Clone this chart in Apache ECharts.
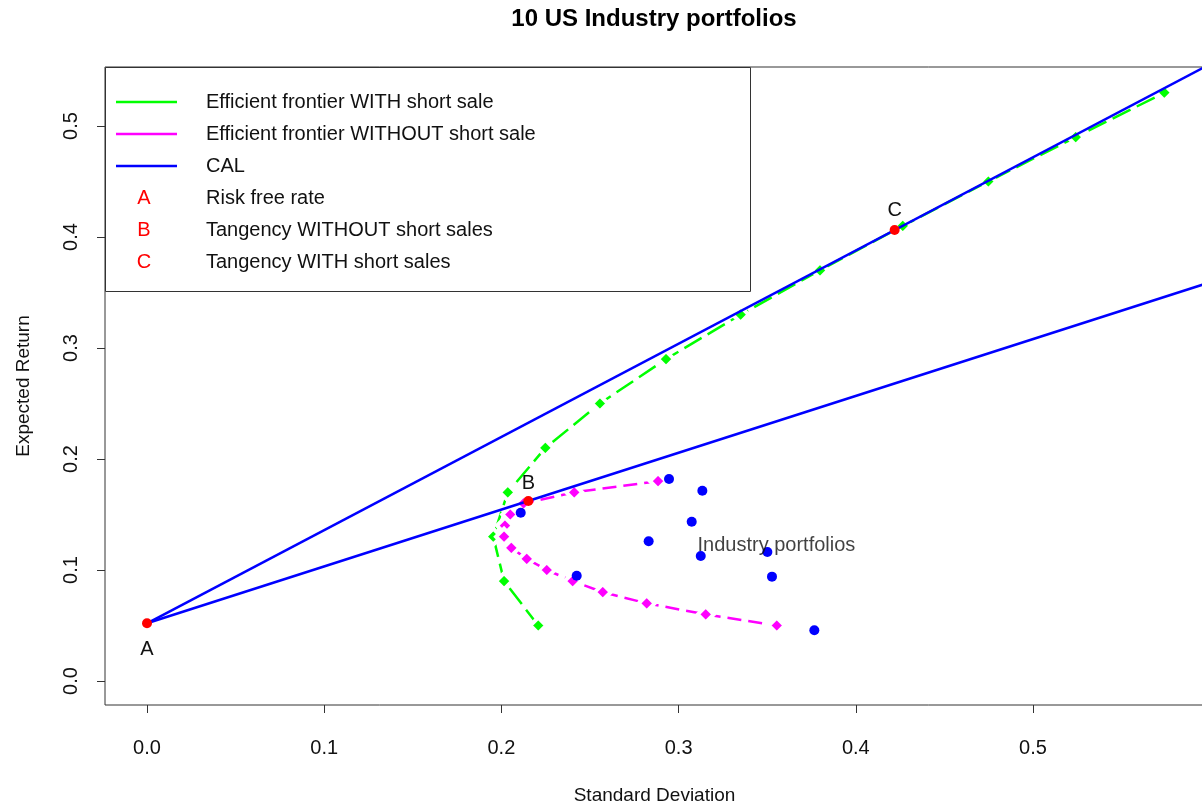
<!DOCTYPE html>
<html>
<head>
<meta charset="utf-8">
<title>10 US Industry portfolios</title>
<script src="https://cdn.jsdelivr.net/npm/echarts@6/dist/echarts.min.js"></script>
<style>
  html, body { margin: 0; padding: 0; background: #ffffff; }
  #chart { width: 1202px; height: 805px; }
</style>
</head>
<body>
<div id="chart"></div>
<script>
// ---- data ----
const riskFree = 0.052;

// Efficient frontier allowing short sales (target return -> std. deviation)
const frontierShortReturn = [0.05, 0.09, 0.13, 0.17, 0.21, 0.25, 0.29, 0.33, 0.37, 0.41, 0.45, 0.49, 0.53];
const frontierShortSd     = [0.2208, 0.2015, 0.1954, 0.2036, 0.2248, 0.2556, 0.2929, 0.3350, 0.3798, 0.4265, 0.4748, 0.5241, 0.5741];

// Efficient frontier without short sales
const frontierNoShortReturn = [0.18, 0.17, 0.16, 0.15, 0.14, 0.13, 0.12, 0.11, 0.10, 0.09, 0.08, 0.07, 0.06, 0.05];
const frontierNoShortSd     = [0.2884, 0.2411, 0.2125, 0.2050, 0.2020, 0.2015, 0.2056, 0.2143, 0.2256, 0.2402, 0.2572, 0.2820, 0.3153, 0.3554];

// The ten industry portfolios
const industrySd     = [0.2109, 0.2425, 0.2831, 0.2946, 0.3074, 0.3125, 0.3134, 0.3501, 0.3527, 0.3766];
const industryReturn = [0.1516, 0.0949, 0.1259, 0.1820, 0.1435, 0.1126, 0.1714, 0.1162, 0.0940, 0.0457];

// Tangency portfolios [sd, return]
const tangencyNoShort = [0.2152, 0.1622];
const tangencyShort   = [0.4219, 0.4063];

// Axis ticks
const xTicks = [0, 0.1, 0.2, 0.3, 0.4, 0.5];
const yTicks = [0, 0.1, 0.2, 0.3, 0.4, 0.5];

// Legend entries
const legendLines   = [['Efficient frontier WITH short sale', '#00ff00'],
                       ['Efficient frontier WITHOUT short sale', '#ff00ff'],
                       ['CAL', '#0000ff']];
const legendLetters = [['A', 'Risk free rate'],
                       ['B', 'Tangency WITHOUT short sales'],
                       ['C', 'Tangency WITH short sales']];

// ---- helpers ----
const FONT = "'Liberation Sans', Arial, Helvetica, sans-serif";
const TXT = '#111111';
const zip = (xs, ys) => xs.map((x, i) => [x, ys[i]]);

// Capital allocation line from the risk-free rate through a tangency point
function calLine(pt) {
  const slope = (pt[1] - riskFree) / pt[0];
  const xEnd = 0.7;
  return [[0, riskFree], [xEnd, riskFree + slope * xEnd]];
}

const chart = echarts.init(document.getElementById('chart'), null, { renderer: 'canvas' });

// plot region in pixels
const G = { left: 105, top: 67, right: -2, bottom: 100 };
const xPx0 = 147, xPxPerUnit = 1772;   // x pixel of 0 and pixels per unit
const yPx0 = 681, yPxPerUnit = 1110;
const xMin = (G.left - xPx0) / xPxPerUnit;
const xMax = (1202 - G.right - xPx0) / xPxPerUnit;
const yMin = (yPx0 - (805 - G.bottom)) / yPxPerUnit;
const yMax = (yPx0 - G.top) / yPxPerUnit;

// white rim around each frontier marker leaves a small gap in the dashed line
const frontierSymbolStyle = (color) => ({
  color: color, borderColor: '#ffffff', borderWidth: 4, opacity: 1
});

const legendGraphics = [];
legendGraphics.push({
  type: 'rect', shape: { x: 105.5, y: 67.5, width: 645, height: 224 },
  style: { fill: '#ffffff', stroke: '#333333', lineWidth: 1 }, z: 100
});
const rowY = [102, 134, 166, 198, 230, 262];
legendLines.forEach((d, i) => {
  legendGraphics.push({
    type: 'line', shape: { x1: 116, y1: rowY[i], x2: 177, y2: rowY[i] },
    style: { stroke: d[1], lineWidth: 2.5 }, z: 101
  });
  legendGraphics.push({
    type: 'text', x: 206, y: rowY[i],
    style: { text: d[0], font: '20px ' + FONT, fill: TXT, textVerticalAlign: 'middle', verticalAlign: 'middle' }, z: 101
  });
});
legendLetters.forEach((d, j) => {
  const i = j + 3;
  legendGraphics.push({
    type: 'text', x: 144, y: rowY[i],
    style: { text: d[0], font: '20px ' + FONT, fill: '#ff0000', align: 'center', textAlign: 'center', verticalAlign: 'middle', textVerticalAlign: 'middle' }, z: 101
  });
  legendGraphics.push({
    type: 'text', x: 206, y: rowY[i],
    style: { text: d[1], font: '20px ' + FONT, fill: TXT, verticalAlign: 'middle', textVerticalAlign: 'middle' }, z: 101
  });
});

// Title centred over the plot region
legendGraphics.push({
  type: 'text', x: 654, y: 19,
  style: { text: '10 US Industry portfolios', font: 'bold 24px ' + FONT, fill: '#000000', align: 'center', textAlign: 'center', verticalAlign: 'middle', textVerticalAlign: 'middle' }, z: 101
});

const industryLabelAt = [0.3552, 0.1225];

const option = {
  animation: false,
  backgroundColor: '#ffffff',
  textStyle: { fontFamily: FONT },
  grid: {
    left: G.left, top: G.top, right: G.right, bottom: G.bottom,
    show: true, borderColor: '#333333', borderWidth: 1, backgroundColor: 'transparent',
    containLabel: false, outerBoundsMode: 'none'
  },
  xAxis: {
    type: 'value', min: xMin, max: xMax,
    name: 'Standard Deviation', nameLocation: 'middle', nameGap: 81,
    nameTextStyle: { fontSize: 19, color: TXT, fontFamily: FONT },
    axisLine: { show: false, onZero: false },
    splitLine: { show: false },
    axisTick: { show: true, inside: false, length: 8, lineStyle: { color: '#333333', width: 1 }, customValues: xTicks },
    axisLabel: { show: true, margin: 33, fontSize: 20, color: TXT, fontFamily: FONT,
                 customValues: xTicks, formatter: v => v.toFixed(1) }
  },
  yAxis: {
    type: 'value', min: yMin, max: yMax,
    name: 'Expected Return', nameLocation: 'middle', nameGap: 72, nameRotate: 90,
    nameTextStyle: { fontSize: 19, color: TXT, fontFamily: FONT },
    axisLine: { show: false, onZero: false },
    splitLine: { show: false },
    axisTick: { show: true, inside: false, length: 8, lineStyle: { color: '#333333', width: 1 }, customValues: yTicks },
    axisLabel: { show: true, margin: 24, rotate: 90, fontSize: 20, color: TXT, fontFamily: FONT,
                 customValues: yTicks, formatter: v => v.toFixed(1) }
  },
  graphic: legendGraphics,
  series: [
    {
      name: 'Efficient frontier WITH short sale', type: 'line',
      data: zip(frontierShortSd, frontierShortReturn),
      symbol: 'diamond', symbolSize: 16, showSymbol: true,
      lineStyle: { color: '#00ff00', width: 2.5, type: [20, 7] },
      itemStyle: frontierSymbolStyle('#00ff00'),
      z: 2, silent: true
    },
    {
      name: 'Efficient frontier WITHOUT short sale', type: 'line',
      data: zip(frontierNoShortSd, frontierNoShortReturn),
      symbol: 'diamond', symbolSize: 16, showSymbol: true,
      lineStyle: { color: '#ff00ff', width: 2.5, type: [14, 7] },
      itemStyle: frontierSymbolStyle('#ff00ff'),
      z: 3, silent: true
    },
    {
      name: 'CAL with short sales', type: 'line', data: calLine(tangencyShort),
      symbol: 'none', lineStyle: { color: '#0000ff', width: 2.5 }, z: 4, silent: true
    },
    {
      name: 'CAL without short sales', type: 'line', data: calLine(tangencyNoShort),
      symbol: 'none', lineStyle: { color: '#0000ff', width: 2.5 }, z: 4, silent: true
    },
    {
      name: 'Industry portfolios', type: 'scatter',
      data: zip(industrySd, industryReturn),
      symbol: 'circle', symbolSize: 10, itemStyle: { color: '#0000ff', opacity: 1 }, z: 5, silent: true
    },
    {
      name: 'Industry label', type: 'scatter',
      data: [industryLabelAt], symbol: 'circle', symbolSize: 1,
      itemStyle: { color: 'rgba(0,0,0,0)' },
      label: { show: true, position: 'inside', formatter: 'Industry portfolios', fontSize: 20, color: TXT, fontFamily: FONT },
      z: 6, silent: true
    },
    {
      name: 'Key points', type: 'scatter',
      data: [
        { value: [0, riskFree], name: 'A', label: { position: 'bottom', distance: 11 } },
        { value: tangencyNoShort, name: 'B', label: { position: 'top', distance: 2 } },
        { value: tangencyShort, name: 'C', label: { position: 'top', distance: 5 } }
      ],
      symbol: 'circle', symbolSize: 10, itemStyle: { color: '#ff0000', opacity: 1 },
      label: { show: true, formatter: '{b}', fontSize: 20, color: TXT, fontFamily: FONT },
      z: 7, silent: true
    }
  ]
};

chart.setOption(option);
</script>
</body>
</html>
